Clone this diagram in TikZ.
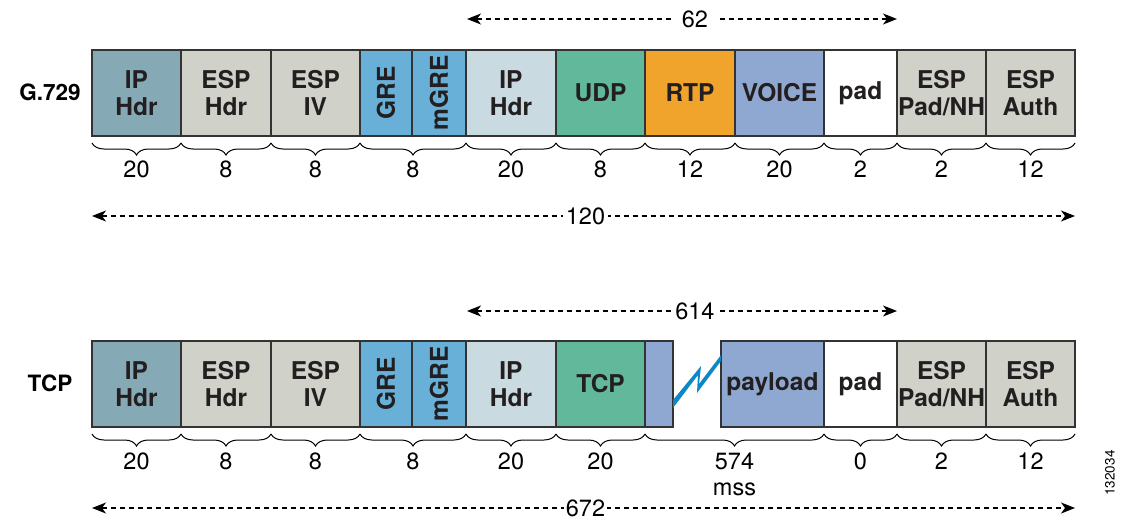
\documentclass[tikz,border=0pt]{standalone}
\usepackage{fontspec}
\setmainfont{TeX Gyre Heros}
\usetikzlibrary{arrows.meta,decorations.pathreplacing,calc}
\definecolor{iphdr}{HTML}{86A9B6}
\definecolor{espgray}{HTML}{D0D1C9}
\definecolor{greblue}{HTML}{69B0D8}
\definecolor{innerip}{HTML}{CADAE1}
\definecolor{protogreen}{HTML}{61B89A}
\definecolor{rtporange}{HTML}{F0A42C}
\definecolor{voiceblue}{HTML}{8FA8D1}
\definecolor{boltblue}{HTML}{0F87C6}
\definecolor{boxline}{HTML}{333333}
\definecolor{txt}{HTML}{231F20}
\begin{document}
\begin{tikzpicture}[x=1pt,y=-1pt,
  box/.style={draw=boxline, line width=1.2pt, inner sep=0pt, outer sep=0pt,
    minimum height=86pt, anchor=north west, align=center,
    font=\fontsize{24.5}{27}\selectfont\bfseries, text=txt},
  brc/.style={decorate, decoration={brace, mirror, amplitude=12pt}, line width=1pt},
  num/.style={font=\fontsize{23.5}{26}\selectfont, inner sep=0pt, text=black},
  rowlbl/.style={font=\fontsize{22.5}{27}\selectfont\bfseries, inner sep=0pt},
  dimline/.style={dash pattern=on 5pt off 4pt, line width=1.2pt,
    {Stealth[length=14pt,width=11pt,inset=4pt]}-{Stealth[length=14pt,width=11pt,inset=4pt]}},
  dimlbl/.style={fill=white, font=\fontsize{23.5}{26}\selectfont, inner ysep=2pt, inner xsep=3pt},
]
\useasboundingbox (0,0) rectangle (1126,519);

% ---------------- G.729 row ----------------
\node[rowlbl] (g729) at (50,92) {G.729};
\node[box, fill=iphdr,     minimum width=89pt] (a1)  at (92,50)  {IP\\Hdr};
\node[box, fill=espgray,   minimum width=90pt] (a2)  at (181,50) {ESP\\Hdr};
\node[box, fill=espgray,   minimum width=89pt] (a3)  at (271,50) {ESP\\IV};
\node[box, fill=greblue,   minimum width=52pt] (a4)  at (360,50) {\rotatebox{90}{GRE}};
\node[box, fill=greblue,   minimum width=54pt] (a5)  at (412,50) {\rotatebox{90}{mGRE}};
\node[box, fill=innerip,   minimum width=90pt] (a6)  at (466,50) {IP\\Hdr};
\node[box, fill=protogreen,minimum width=89pt] (a7)  at (556,50) {UDP};
\node[box, fill=rtporange, minimum width=90pt] (a8)  at (645,50) {RTP};
\node[box, fill=voiceblue, minimum width=89pt] (a9)  at (735,50) {VOICE};
\node[box, fill=white,     minimum width=73pt] (a10) at (824,50) {pad};
\node[box, fill=espgray,   minimum width=89pt] (a11) at (897,50) {ESP\\Pad/NH};
\node[box, fill=espgray,   minimum width=89pt] (a12) at (986,50) {ESP\\Auth};

\foreach \s/\e/\v in {a1/a1/20, a2/a2/8, a3/a3/8, a4/a5/8, a6/a6/20, a7/a7/8,
                      a8/a8/12, a9/a9/20, a10/a10/2, a11/a11/2, a12/a12/12}{
  \draw[brc] ($(\s.south west)+(0,7)$) -- ($(\e.south east)+(0,7)$);
  \node[num] at ($(\s.south west)!0.5!(\e.south east)+(0,33)$) {\v};
}

\coordinate (t62a) at (467,19);
\coordinate (t62b) at (897,19);
\draw[dimline] (t62a) -- (t62b) node[dimlbl, pos=0.53, inner xsep=10pt] {62};
\coordinate (t120a) at (92,216);
\coordinate (t120b) at (1075,216);
\draw[dimline] (t120a) -- (t120b) node[dimlbl, pos=0.502] {120};

% ---------------- TCP row ----------------
\node[rowlbl] (tcp) at (50,383) {TCP};
\node[box, fill=iphdr,     minimum width=89pt] (b1)  at (92,341)  {IP\\Hdr};
\node[box, fill=espgray,   minimum width=90pt] (b2)  at (181,341) {ESP\\Hdr};
\node[box, fill=espgray,   minimum width=89pt] (b3)  at (271,341) {ESP\\IV};
\node[box, fill=greblue,   minimum width=52pt] (b4)  at (360,341) {\rotatebox{90}{GRE}};
\node[box, fill=greblue,   minimum width=54pt] (b5)  at (412,341) {\rotatebox{90}{mGRE}};
\node[box, fill=innerip,   minimum width=90pt] (b6)  at (466,341) {IP\\Hdr};
\node[box, fill=protogreen,minimum width=89pt] (b7)  at (556,341) {TCP};
\node[box, fill=voiceblue, minimum width=28pt] (b8)  at (645,341) {};
\node[box, fill=voiceblue, minimum width=103pt] (b9) at (721,341) {payload};
\node[box, fill=white,     minimum width=73pt] (b10) at (824,341) {pad};
\node[box, fill=espgray,   minimum width=89pt] (b11) at (897,341) {ESP\\Pad/NH};
\node[box, fill=espgray,   minimum width=89pt] (b12) at (986,341) {ESP\\Auth};

% lightning bolt
\fill[boltblue] (b8.east |- 0,400) -- (701,366) -- (699,384) -- (b9.west |- 0,355)
  -- (b9.west |- 0,361) -- (697,393) -- (698,375) -- (b8.east |- 0,408) -- cycle;

\foreach \s/\e/\v in {b1/b1/20, b2/b2/8, b3/b3/8, b4/b5/8, b6/b6/20, b7/b7/20,
                      b8/b9/574, b10/b10/0, b11/b11/2, b12/b12/12}{
  \draw[brc] ($(\s.south west)+(0,7)$) -- ($(\e.south east)+(0,7)$);
  \node[num] at ($(\s.south west)!0.5!(\e.south east)+(0,34)$) {\v};
}
\node[num] (mss) at ($(b8.south west)!0.5!(b9.south east)+(0,62)$) {mss};

\coordinate (t614a) at (467,311);
\coordinate (t614b) at (897,311);
\draw[dimline] (t614a) -- (t614b) node[dimlbl, pos=0.53, inner xsep=1pt] {614};
\coordinate (t672a) at (92,508);
\coordinate (t672b) at (1075,508);
\draw[dimline] (t672a) -- (t672b) node[dimlbl, pos=0.502, inner xsep=2pt] {672};

\node[rotate=90, font=\fontsize{13.5}{15}\selectfont, inner sep=0pt] (fig) at (1110,473) {132034};
\end{tikzpicture}
\end{document}
